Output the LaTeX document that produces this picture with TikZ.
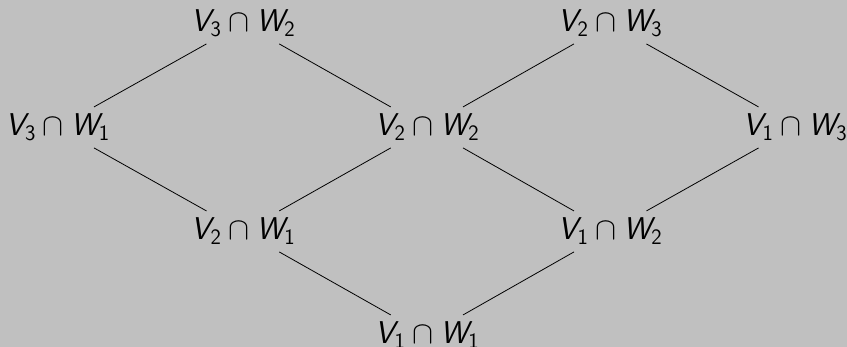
\RequirePackage{fix-cm}
\documentclass[tikz,border=0pt]{standalone}
\usepackage{amsmath}
\DeclareMathAlphabet{\mathsfit}{OT1}{cmss}{m}{sl}
\DeclareMathAlphabet{\mathsfup}{OT1}{cmss}{m}{n}
\newcommand{\VW}[2]{$\mathsfit{V}_{\mathsfup{#1}}\cap\mathsfit{W}_{\mathsfup{#2}}$}
\begin{document}
\begin{tikzpicture}[x=1pt,y=1pt,
  lat/.style={anchor=base,inner sep=7pt,font=\fontsize{31.5}{37}\selectfont},
  edge/.style={line width=0.8pt,black}]
\fill[fill={rgb,255:red,192;green,192;blue,192}] (0,0) rectangle (847,347);
\useasboundingbox (0,0) rectangle (847,347);
\node[lat] (v3w2) at (243,315) {\VW{3}{2}};
\node[lat] (v2w3) at (610,315) {\VW{2}{3}};
\node[lat] (v3w1) at (57.5,211) {\VW{3}{1}};
\node[lat] (v2w2) at (427,211) {\VW{2}{2}};
\node[lat] (v1w3) at (795,211) {\VW{1}{3}};
\node[lat] (v2w1) at (243,107) {\VW{2}{1}};
\node[lat] (v1w2) at (610,107) {\VW{1}{2}};
\node[lat] (v1w1) at (427,3) {\VW{1}{1}};
\draw[edge] (v3w1) -- (v3w2);
\draw[edge] (v3w2) -- (v2w2);
\draw[edge] (v3w1) -- (v2w1);
\draw[edge] (v2w1) -- (v2w2);
\draw[edge] (v2w2) -- (v2w3);
\draw[edge] (v2w3) -- (v1w3);
\draw[edge] (v2w2) -- (v1w2);
\draw[edge] (v1w3) -- (v1w2);
\draw[edge] (v2w1) -- (v1w1);
\draw[edge] (v1w2) -- (v1w1);
\end{tikzpicture}
\end{document}
